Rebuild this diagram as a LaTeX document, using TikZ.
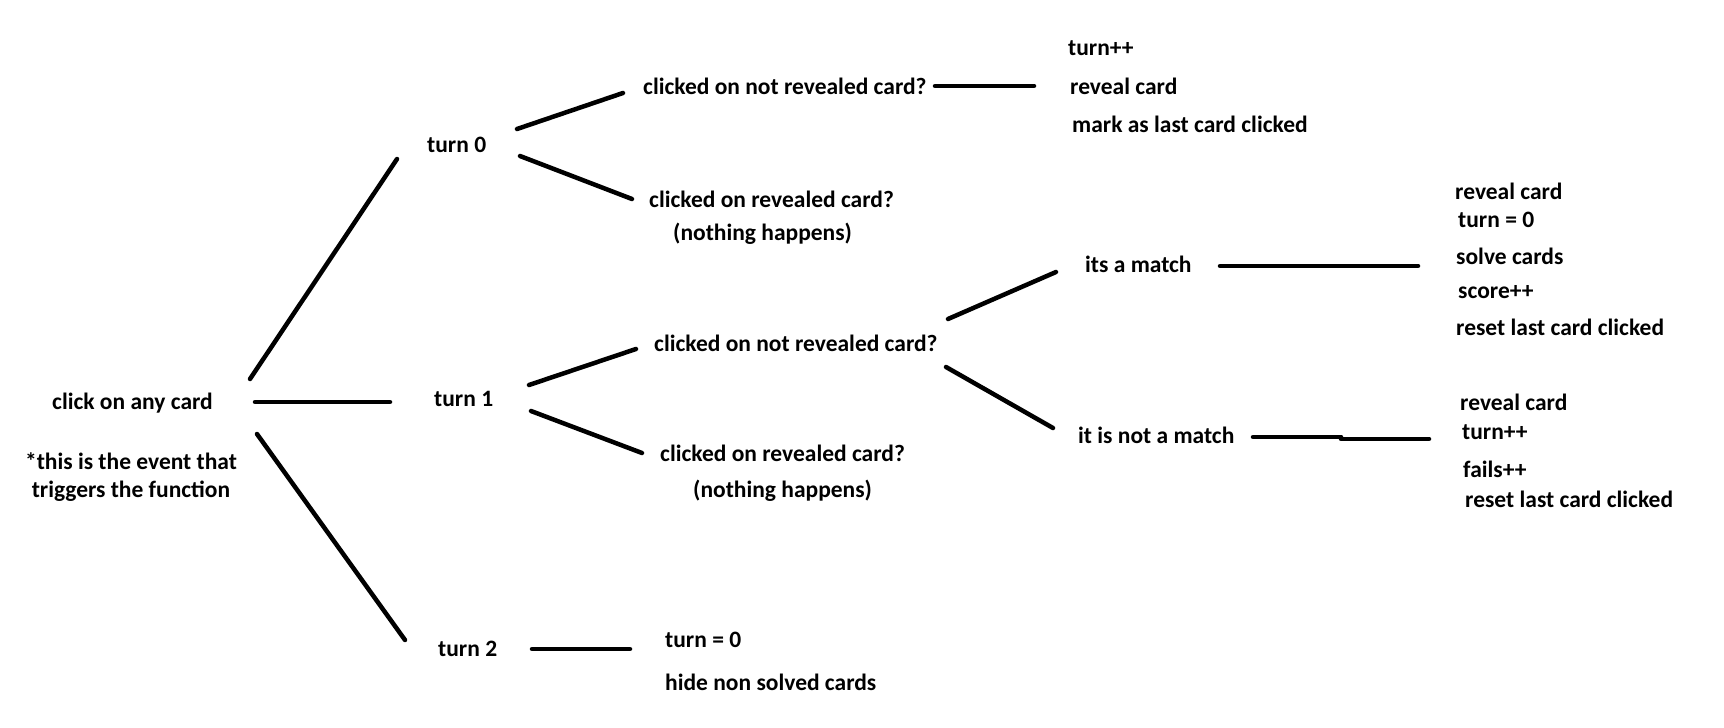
\documentclass[tikz,border=0pt]{standalone}
\usepackage{fontspec}
\setmainfont{Carlito}[BoldFont={Carlito Bold}]
\begin{document}
\begin{tikzpicture}[x=1pt,y=-1pt,
  lbl/.style={anchor=west,inner sep=0pt,font=\fontsize{23.5}{28}\selectfont\bfseries},
  conn/.style={line width=4.5pt,line cap=round}]
\useasboundingbox[fill=white] (0,0) rectangle (1724,728);
% nodes
\node[lbl] (click) at (52,403) {click on any card};
\node[lbl,anchor=center,align=center,font=\fontsize{23.5}{28}\selectfont\bfseries] (note) at (131,477) {*this is the event that\\triggers the function};
\node[lbl] (t0) at (427,145) {turn 0};
\node[lbl] (t1) at (434,399) {turn 1};
\node[lbl] (t2) at (438,649) {turn 2};
\node[lbl] (c0a) at (643,86) {clicked on not revealed card?};
\node[lbl] (c0b) at (649,199) {clicked on revealed card?};
\node[lbl] (n0) at (673,234) {(nothing happens)};
\node[lbl] (r0a) at (1068,48) {turn++};
\node[lbl] (r0b) at (1070,86) {reveal card};
\node[lbl] (r0c) at (1072,124) {mark as last card clicked};
\node[lbl] (c1a) at (654,343) {clicked on not revealed card?};
\node[lbl] (c1b) at (660,453) {clicked on revealed card?};
\node[lbl] (n1) at (693,491) {(nothing happens)};
\node[lbl] (m) at (1085,264) {its a match};
\node[lbl] (nm) at (1078,435) {it is not a match};
\node[lbl] (ma1) at (1455,191) {reveal card};
\node[lbl] (ma2) at (1458,220) {turn = 0};
\node[lbl] (ma3) at (1456,256) {solve cards};
\node[lbl] (ma4) at (1458,292) {score++};
\node[lbl] (ma5) at (1456,327) {reset last card clicked};
\node[lbl] (nm1) at (1460,402) {reveal card};
\node[lbl] (nm2) at (1462,432) {turn++};
\node[lbl] (nm3) at (1463,469) {fails++};
\node[lbl] (nm4) at (1465,499) {reset last card clicked};
\node[lbl] (t2a) at (665,640) {turn = 0};
\node[lbl] (t2b) at (665,682) {hide non solved cards};
% connector end points
\coordinate (e1a) at (250,379); \coordinate (e1b) at (397,159);
\coordinate (e2a) at (255,402); \coordinate (e2b) at (390,402);
\coordinate (e3a) at (257,434); \coordinate (e3b) at (405,640);
\coordinate (e4a) at (517,129); \coordinate (e4b) at (623,93);
\coordinate (e5a) at (520,156); \coordinate (e5b) at (632,199);
\coordinate (e6a) at (529,385); \coordinate (e6b) at (636,349);
\coordinate (e7a) at (531,411); \coordinate (e7b) at (642,453);
\coordinate (e8a) at (532,649); \coordinate (e8b) at (630,649);
\coordinate (e9a) at (935,86); \coordinate (e9b) at (1034,86);
\coordinate (e10a) at (948,319); \coordinate (e10b) at (1056,272);
\coordinate (e11a) at (946,367); \coordinate (e11b) at (1053,428);
\coordinate (e12a) at (1220,266); \coordinate (e12b) at (1418,266);
\coordinate (e13a) at (1253,437); \coordinate (e13m) at (1341,437);
\coordinate (e13n) at (1341,439); \coordinate (e13b) at (1429,439);
% connectors
\draw[conn] (e1a) -- (e1b);
\draw[conn] (e2a) -- (e2b);
\draw[conn] (e3a) -- (e3b);
\draw[conn] (e4a) -- (e4b);
\draw[conn] (e5a) -- (e5b);
\draw[conn] (e6a) -- (e6b);
\draw[conn] (e7a) -- (e7b);
\draw[conn] (e8a) -- (e8b);
\draw[conn] (e9a) -- (e9b);
\draw[conn] (e10a) -- (e10b);
\draw[conn] (e11a) -- (e11b);
\draw[conn] (e12a) -- (e12b);
\draw[conn] (e13a) -- (e13m);
\draw[conn] (e13n) -- (e13b);
\end{tikzpicture}
\end{document}
